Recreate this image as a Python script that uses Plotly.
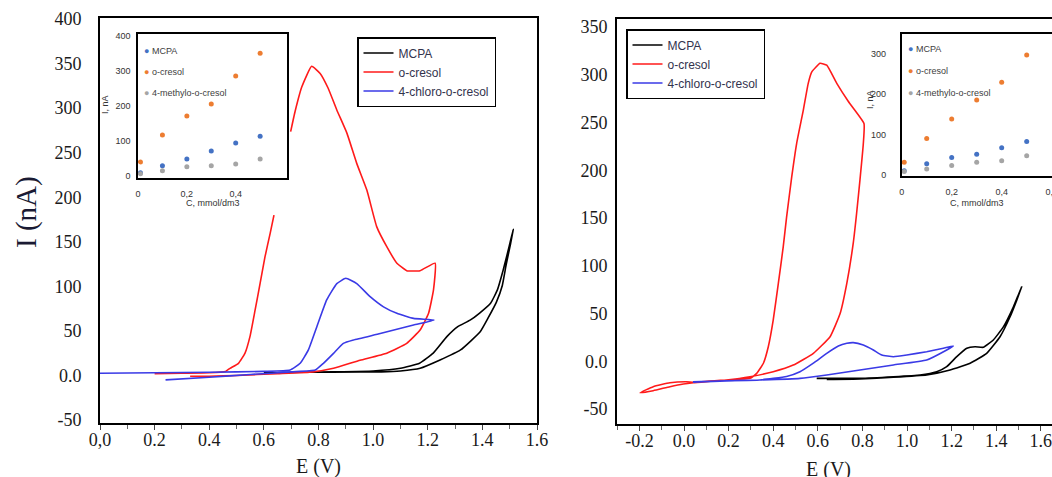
import plotly.graph_objects as go

# ---------------- data: left panel (cyclic voltammograms) ----------------
mcpa_left_E = [0.60, 0.75, 0.85, 1.00, 1.10, 1.17, 1.22, 1.27, 1.31, 1.355, 1.39, 1.43, 1.455, 1.476,
               1.495, 1.513, 1.502, 1.487, 1.473, 1.451, 1.421, 1.392, 1.32, 1.245, 1.172, 1.10, 1.03,
               0.95, 0.85]
mcpa_left_I = [3, 3.5, 4, 5, 8, 13.6, 25, 43.5, 54.7, 62, 70, 81, 96, 118,
               141, 164, 146, 124, 101, 82, 64.5, 49, 28.6, 17.3, 8, 5, 4,
               3.9, 3.5]

ocresol_left_E = [0.20, 0.30, 0.40, 0.46, 0.476, 0.507, 0.531, 0.549, 0.568, 0.586, 0.604, 0.623, 0.637,
                  None, 0.698, 0.714, 0.739, 0.775, 0.806, 0.835, 0.867, 0.904, 0.94, 0.977, 1.013, 1.05,
                  1.087, 1.123, 1.172, 1.227, 1.221, 1.203, 1.172, 1.123, 1.05, 0.952, 0.855, 0.78, 0.65,
                  0.50, 0.40, 0.33]
ocresol_left_I = [2, 2.5, 3, 4.5, 8, 13.6, 25, 43.5, 73.5, 103, 133, 159.5, 180,
                  None, 273.6, 296, 324, 347, 339, 322.6, 298, 272, 238, 208, 167, 144.5,
                  126, 117.6, 117.6, 126, 96, 69.8, 51, 36, 25, 17, 8, 4, 2,
                  0, -1, -1]

chloro_left_E = [0.0, 0.2, 0.4, 0.6, 0.696, 0.733, 0.763, 0.794, 0.83, 0.867, 0.90, 0.94, 0.989, 1.038,
                 1.087, 1.148, 1.223, 1.148, 1.026, 0.928, 0.891, 0.855, 0.818, 0.788, 0.70, 0.55, 0.40,
                 0.24]
chloro_left_I = [2.5, 3, 3.5, 4.5, 6, 13.6, 28.6, 54.7, 84.7, 103, 109, 103, 88.4, 77,
                 69.7, 64, 62.2, 56.6, 47, 39.8, 36, 24.8, 13.6, 6, 4, 1, -2,
                 -5]

# ---------------- data: right panel ----------------
mcpa_right_E = [0.595, 0.789, 0.939, 1.058, 1.133, 1.178, 1.223, 1.268, 1.305, 1.342, 1.387, 1.432, 1.477,
                1.514, 1.492, 1.462, 1.417, 1.357, 1.283, 1.193, 1.088, 0.939, 0.789, 0.64]
mcpa_right_I = [-17.9, -17.9, -16.2, -14.4, -11, -5.7, 4.8, 13.6, 15.2, 14.6, 22.3, 36, 57,
                78, 64, 46.6, 25.7, 8.3, -2.1, -9.2, -14.4, -16.8, -18.5, -19]

ocresol_right_E = [-0.197, -0.138, -0.063, 0.012, 0.042, 0.19, 0.296, 0.326, 0.356, 0.378, 0.40, 0.423,
                   0.445, 0.46, 0.483, 0.505, 0.535, 0.557, 0.573, 0.61, 0.64, 0.685, 0.737, 0.807,
                   0.804, 0.789, 0.774, 0.759, 0.73, 0.70, 0.655, 0.58, 0.49, 0.40, 0.296, 0.19,
                   0.042, -0.003, -0.063, -0.138, -0.197]
ocresol_right_I = [-33, -26.6, -22.5, -21.4, -22, -19.6, -17.9, -12.7, -2.1, 15.2, 43, 81.6,
                   120, 151, 193, 228, 263, 291, 303, 312, 310, 291, 272, 249,
                   228, 190, 155, 124, 81.6, 50, 25.7, 8.3, -4, -11, -16.2, -19.6,
                   -22.5, -23.8, -26.6, -30.8, -33]

chloro_right_E = [0.04, 0.19, 0.34, 0.46, 0.52, 0.58, 0.64, 0.692, 0.73, 0.759, 0.804, 0.849, 0.887,
                  0.939, 0.999, 1.088, 1.163, 1.208, 1.178, 1.088, 0.939, 0.789, 0.64, 0.52, 0.34,
                  0.19, 0.04]
chloro_right_I = [-21.4, -20.5, -19.6, -16, -11, -2, 8.3, 16, 18.8, 19.5, 17, 11.8, 6.5,
                  4.8, 6.5, 10, 13.6, 16, 11.8, 1.3, -3.9, -9.2, -14.4, -17.9, -19.6,
                  -20.5, -22]

# ---------------- data: insets (peak current vs concentration) ----------------
conc = [0.01, 0.1, 0.2, 0.3, 0.4, 0.5]
inset_left_mcpa = [9, 29, 48, 71, 94, 113]
inset_left_ocresol = [40, 117, 171, 205, 285, 350]
inset_left_methyl = [6, 15, 26, 29, 34, 48]
inset_right_mcpa = [11, 28, 44, 52, 68, 83]
inset_right_ocresol = [32, 91, 139, 186, 230, 297]
inset_right_methyl = [9, 15.5, 24, 32, 36, 48]

series_names = ["MCPA", "o-cresol", "4-chloro-o-cresol"]
inset_names = ["MCPA", "o-cresol", "4-methylo-o-cresol"]

left_xticks = [0, 0.2, 0.4, 0.6, 0.8, 1.0, 1.2, 1.4, 1.6]
left_xtext = ["0,0", "0.2", "0.4", "0.6", "0.8", "1.0", "1.2", "1.4", "1.6"]
right_xticks = [-0.2, 0, 0.2, 0.4, 0.6, 0.8, 1.0, 1.2, 1.4, 1.6]
right_xtext = ["-0.2", "0.0", "0.2", "0.4", "0.6", "0.8", "1.0", "1.2", "1.4", "1.6"]
left_yticks = [-50, 0, 50, 100, 150, 200, 250, 300, 350, 400]
left_ytext = ["-50", "0.0", "50", "100", "150", "200", "250", "300", "350", "400"]
right_yticks = [-50, 0, 50, 100, 150, 200, 250, 300, 350]
right_ytext = ["-50", "0.0", "50", "100", "150", "200", "250", "300", "350"]

# ---------------- styling ----------------
W, H = 1052, 477
def fx(x):
    return x / W
def fy(y):
    return 1 - y / H

LINE_COLORS = ["#000000", "#ff1a1a", "#3a3ae6"]
DOT_COLORS = ["#4472C4", "#ED7D31", "#A5A5A5"]
SERIF = "Liberation Serif, Times New Roman, serif"
SANS = "Liberation Sans, Arial, sans-serif"

fig = go.Figure()

left_sets = [(mcpa_left_E, mcpa_left_I), (ocresol_left_E, ocresol_left_I), (chloro_left_E, chloro_left_I)]
right_sets = [(mcpa_right_E, mcpa_right_I), (ocresol_right_E, ocresol_right_I), (chloro_right_E, chloro_right_I)]

for i, (e, c) in enumerate(left_sets):
    fig.add_trace(go.Scatter(x=e, y=c, mode="lines", name=series_names[i],
                             line=dict(color=LINE_COLORS[i], width=1.6, shape="spline", smoothing=0.4),
                             connectgaps=False, xaxis="x", yaxis="y", legend="legend"))
for i, (e, c) in enumerate(right_sets):
    fig.add_trace(go.Scatter(x=e, y=c, mode="lines", name=series_names[i],
                             line=dict(color=LINE_COLORS[i], width=1.6, shape="spline", smoothing=0.4),
                             xaxis="x2", yaxis="y2", legend="legend2"))

for vals, col in zip([inset_left_mcpa, inset_left_ocresol, inset_left_methyl], DOT_COLORS):
    fig.add_trace(go.Scatter(x=conc, y=vals, mode="markers", showlegend=False,
                             marker=dict(color=col, size=5), xaxis="x3", yaxis="y3"))
for vals, col in zip([inset_right_mcpa, inset_right_ocresol, inset_right_methyl], DOT_COLORS):
    fig.add_trace(go.Scatter(x=conc, y=vals, mode="markers", showlegend=False,
                             marker=dict(color=col, size=5), xaxis="x4", yaxis="y4"))

tickfont = dict(family=SERIF, size=18, color="#1a1a1a")
insetfont = dict(family=SANS, size=9, color="#333333")

main_x_common = dict(showgrid=False, zeroline=False, showline=True, linecolor="black", linewidth=2,
                     ticks="outside", ticklen=5, tickcolor="#444", tickfont=tickfont,
                     minor=dict(ticks="outside", dtick=0.1, ticklen=4, tickcolor="#666"),
                     automargin=False, ticklabelstandoff=-6, ticklabeloverflow="allow")
main_y_common = dict(showgrid=False, zeroline=False, showline=True, linecolor="black", linewidth=2,
                     ticks="", tickfont=tickfont, automargin=False)

inset_common = dict(showgrid=False, zeroline=False, showline=True, linecolor="black", linewidth=1.5,
                    mirror=True, ticks="", tickfont=insetfont, automargin=False,
                    ticklabeloverflow="allow")

fig.update_layout(
    width=W, height=H, autosize=False,
    margin=dict(l=0, r=0, t=0, b=0),
    paper_bgcolor="white", plot_bgcolor="white",
    xaxis=dict(domain=[fx(100), fx(537)], range=[0, 1.6], anchor="y", mirror=True,
               tickvals=left_xticks, ticktext=left_xtext, **main_x_common),
    yaxis=dict(domain=[fy(423), fy(18)], range=[-53.4, 401.2], anchor="x", mirror=True,
               tickvals=left_yticks, ticktext=left_ytext, ticklabelstandoff=13, **main_y_common),
    xaxis2=dict(domain=[fx(617), 1.0], range=[-0.3004, 1.650], anchor="y2", mirror=True,
                tickvals=right_xticks, ticktext=right_xtext, **main_x_common),
    yaxis2=dict(domain=[fy(424), fy(19)], range=[-65.7, 358.4], anchor="x2",
                tickvals=right_yticks, ticktext=right_ytext, ticklabelstandoff=4, **main_y_common),
    xaxis3=dict(domain=[fx(138), fx(287)], range=[0, 0.61], anchor="y3",
                tickvals=[0, 0.2, 0.4], ticktext=["0", "0,2", "0,4"], ticklabelstandoff=6, **inset_common),
    yaxis3=dict(domain=[fy(178), fy(34)], range=[-6, 405], anchor="x3",
                tickvals=[0, 100, 200, 300, 400], ticktext=["0", "100", "200", "300", "400"],
                ticklabelstandoff=4, **inset_common),
    xaxis4=dict(domain=[fx(901.7), 0.9997], range=[0, 0.6], anchor="y4",
                tickvals=[0, 0.2, 0.4, 0.6], ticktext=["0", "0,2", "0,4", "0,6"], ticklabelstandoff=6,
                **inset_common),
    yaxis4=dict(domain=[fy(176), fy(34)], range=[-2, 349], anchor="x4",
                tickvals=[0, 100, 200, 300], ticktext=["0", "100", "200", "300"],
                ticklabelstandoff=12, **inset_common),
    legend=dict(x=fx(357), y=fy(37), xanchor="left", yanchor="top", bgcolor="white",
                bordercolor="black", borderwidth=1.5, tracegroupgap=0,
                font=dict(family=SANS, size=12, color="#33334d")),
    legend2=dict(x=fx(626), y=fy(29), xanchor="left", yanchor="top", bgcolor="white",
                 bordercolor="black", borderwidth=1.5, tracegroupgap=0,
                 font=dict(family=SANS, size=12, color="#33334d")),
    showlegend=True,
)

ann = []
# main axis titles
ann.append(dict(text="I (nA)", x=fx(26), y=fy(212), xref="paper", yref="paper", textangle=-90,
                xanchor="center", yanchor="middle",
                showarrow=False, font=dict(family=SERIF, size=29, color="#1a1a33")))
ann.append(dict(text="E (V)", x=fx(318), y=fy(466), xref="paper", yref="paper",
                xanchor="center", yanchor="middle",
                showarrow=False, font=dict(family=SERIF, size=20, color="#1a1a1a")))
ann.append(dict(text="E (V)", x=fx(828), y=fy(469), xref="paper", yref="paper",
                xanchor="center", yanchor="middle",
                showarrow=False, font=dict(family=SERIF, size=20, color="#1a1a1a")))
# inset titles
for cx, ty, yx, yy in [(213, 203, 105, 105), (977, 203, 870, 100)]:
    ann.append(dict(text="C, mmol/dm3", x=fx(cx), y=fy(ty), xref="paper", yref="paper",
                    xanchor="center", yanchor="middle", showarrow=False, font=insetfont))
    ann.append(dict(text="I, nA", x=fx(yx), y=fy(yy), xref="paper", yref="paper", textangle=-90,
                    xanchor="center", yanchor="middle", showarrow=False, font=insetfont))
# inset legends
for lx, ys in [(142, [51, 72, 93]), (906, [49, 71, 93])]:
    for name, col, yv in zip(inset_names, DOT_COLORS, ys):
        ann.append(dict(text=f'<span style="color:{col}">●</span> {name}', x=fx(lx), y=fy(yv),
                        xref="paper", yref="paper", xanchor="left", yanchor="middle", showarrow=False,
                        font=dict(family=SANS, size=9, color="#404040")))
fig.update_layout(annotations=ann)

fig.write_html("out.html")
